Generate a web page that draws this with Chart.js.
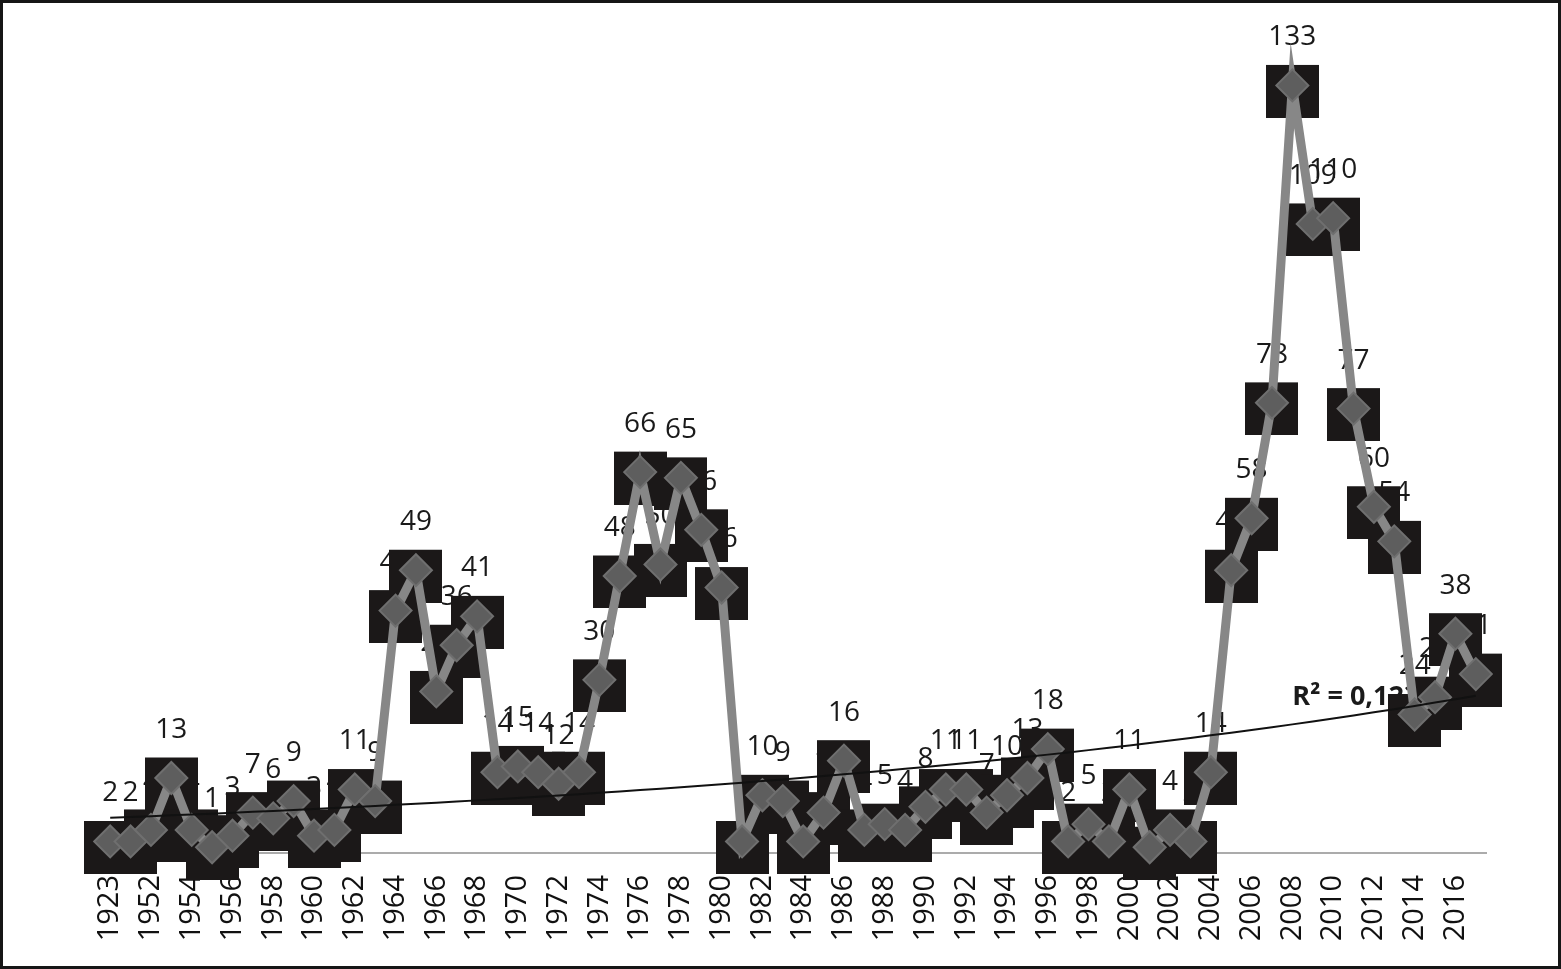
<!DOCTYPE html>
<html>
<head>
<meta charset="utf-8">
<script src="https://cdn.jsdelivr.net/npm/chart.js@4.4.1/dist/chart.umd.min.js"></script>
<style>
  html,body{margin:0;padding:0;background:#fff;}
  canvas{display:block;}
</style>
</head>
<body>
<canvas id="c" width="1561" height="969"></canvas>
<script>
// ---- data ----
const categories = ['1923','1951','1952','1953','1954','1955','1956','1957','1958','1959',
  '1960','1961','1962','1963','1964','1965','1966','1967','1968','1969',
  '1970','1971','1972','1973','1974','1975','1976','1977','1978','1979',
  '1980','1981','1982','1983','1984','1985','1986','1987','1988','1989',
  '1990','1991','1992','1993','1994','1995','1996','1997','1998','1999',
  '2000','2001','2002','2003','2004','2005','2006','2007','2008','2009',
  '2010','2011','2012','2013','2014','2015','2016','2017'];
const counts = [2,2,4,13,4,1,3,7,6,9,
  3,4,11,9,42,49,28,36,41,14,
  15,14,12,14,30,48,66,50,65,56,
  46,2,10,9,2,7,16,4,5,4,
  8,11,11,7,10,13,18,2,5,2,
  11,1,4,2,14,49,58,78,133,109,
  110,77,60,54,24,27,38,31];
const trendLabel = 'R² = 0,1231';

// exponential trendline (least squares on ln y, x = 1..n), as the spreadsheet does
const n = counts.length;
let sx=0, sy=0, sxx=0, sxy=0;
counts.forEach((v,i)=>{const x=i+1, y=Math.log(v); sx+=x; sy+=y; sxx+=x*x; sxy+=x*y;});
const b = (n*sxy - sx*sy)/(n*sxx - sx*sx);
const lnA = (sy - b*sx)/n;
const trend = counts.map((v,i)=>Math.exp(lnA + b*(i+1)));

// black box marker image (offset slightly below the point)
const box = document.createElement('canvas');
box.width = 53; box.height = 65;
(function(){const g = box.getContext('2d'); g.fillStyle = '#1b1818'; g.fillRect(0,12,53,53);})();

const labelsPlugin = {
  id: 'labelsUnder',
  beforeDatasetsDraw(chart){
    const ctx = chart.ctx;
    const meta = chart.getDatasetMeta(1);
    ctx.save();
    ctx.fillStyle = '#1a1a1a';
    ctx.font = '28px "Open Sans", sans-serif';
    ctx.textAlign = 'center';
    ctx.textBaseline = 'middle';
    meta.data.forEach((pt,i)=>{
      ctx.fillText(String(counts[i]), pt.x, pt.y - 48);
    });
    const xs = chart.scales.x, ys = chart.scales.y;
    ctx.font = 'bold 27px "Open Sans", sans-serif';
    ctx.textAlign = 'left';
    ctx.fillText(trendLabel, xs.getPixelForValue(58), ys.getPixelForValue(27));
    ctx.restore();
  },
  afterDraw(chart){
    const ctx = chart.ctx;
    ctx.save();
    ctx.strokeStyle = '#161616';
    ctx.lineWidth = 3;
    ctx.strokeRect(1.5, 1.5, chart.width - 3, chart.height - 3);
    ctx.restore();
  }
};

new Chart(document.getElementById('c'), {
  type: 'line',
  data: {
    labels: categories,
    datasets: [
      {
        label: 'trend',
        data: trend,
        borderColor: '#111',
        borderWidth: 2,
        pointRadius: 0,
        fill: false,
        clip: false,
        order: -1
      },
      {
        label: 'count',
        data: counts,
        borderColor: '#878787',
        borderWidth: 9,
        pointStyle: 'rectRot',
        pointRadius: 16,
        pointBackgroundColor: '#5e5e5e',
        pointBorderColor: '#6f6f6f',
        pointBorderWidth: 2,
        fill: false,
        clip: false,
        order: 0
      },
      {
        label: 'boxes',
        data: counts,
        showLine: false,
        pointStyle: box,
        pointRadius: 20,
        clip: false,
        order: 1
      }
    ]
  },
  options: {
    responsive: false,
    animation: false,
    events: [],
    layout: { padding: { top: 45, left: 100, right: 75, bottom: 0 } },
    plugins: { legend: { display: false }, tooltip: { enabled: false } },
    scales: {
      x: {
        type: 'category',
        offset: true,
        grid: { display: false, drawTicks: false },
        border: { display: true, color: '#ababab', width: 2 },
        afterFit(scale){ scale.height = 116; },
        ticks: {
          autoSkip: false,
          minRotation: 90,
          maxRotation: 90,
          padding: 22,
          color: '#111',
          font: { family: '"Open Sans", sans-serif', size: 29 },
          callback(val, idx){ return idx % 2 === 0 ? categories[idx] : ''; }
        }
      },
      y: {
        display: false,
        min: 0,
        max: 140
      }
    }
  },
  plugins: [labelsPlugin]
});
</script>
</body>
</html>
